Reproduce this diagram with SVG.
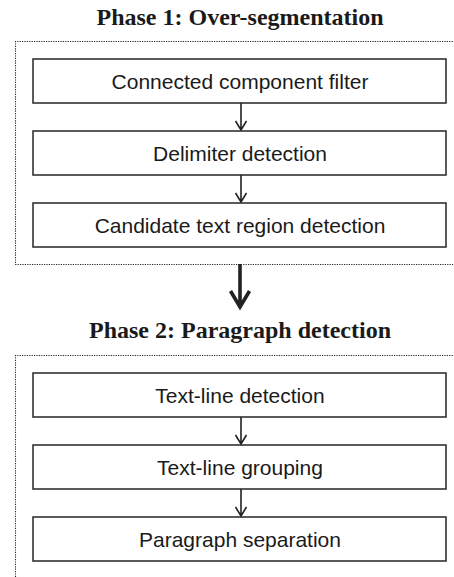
<svg xmlns="http://www.w3.org/2000/svg" width="454" height="577" viewBox="0 0 454 577">
<style>
.title{font-family:"Liberation Serif","Times New Roman",serif;font-weight:bold;font-size:24px;fill:#1a1a1a;text-anchor:middle}
.lbl{font-family:"Liberation Sans",Arial,sans-serif;font-size:21px;fill:#1a1a1a;text-anchor:middle}
.box{fill:#fff;stroke:#333;stroke-width:1.6}
.phase{fill:none;stroke:#222;stroke-width:1.1;stroke-dasharray:1.2 1.2}
.conn{fill:none;stroke:#222;stroke-width:1.6}
.big{fill:none;stroke:#222;stroke-width:3.6}
</style>
<rect width="454" height="577" fill="#fff"/>
<g id="phase1">
<text class="title" x="240" y="25">Phase 1: Over-segmentation</text>
<path class="phase" d="M460,41.5 H15.5 V264.5 H460"/>
</g>
<g id="phase2">
<text class="title" x="240" y="338">Phase 2: Paragraph detection</text>
<path class="phase" d="M460,355.5 H15.5 V580"/>
</g>
<g id="n1"><rect class="box" x="33" y="59" width="413" height="44"/><text class="lbl" x="240" y="88.5">Connected component filter</text></g>
<g id="n2"><rect class="box" x="33" y="131" width="413" height="44"/><text class="lbl" x="240" y="160.5">Delimiter detection</text></g>
<g id="n3"><rect class="box" x="33" y="203" width="413" height="44"/><text class="lbl" x="240" y="232.5">Candidate text region detection</text></g>
<g id="n4"><rect class="box" x="33" y="373" width="413" height="44"/><text class="lbl" x="240" y="402.5">Text-line detection</text></g>
<g id="n5"><rect class="box" x="33" y="445" width="413" height="44"/><text class="lbl" x="240" y="474.5">Text-line grouping</text></g>
<g id="n6"><rect class="box" x="33" y="517" width="413" height="44"/><text class="lbl" x="240" y="546.5">Paragraph separation</text></g>
<g id="connectors">
<path class="conn" d="M241,103 V130 M235.5,121 L241,130 L246.5,121"/>
<path class="conn" d="M241,175 V202 M235.5,193 L241,202 L246.5,193"/>
<path class="conn" d="M241,417 V444 M235.5,435 L241,444 L246.5,435"/>
<path class="conn" d="M241,489 V516 M235.5,507 L241,516 L246.5,507"/>
<path class="big" d="M240,264 V307 M230.5,291 L240,307 L249.5,291"/>
</g>
</svg>
